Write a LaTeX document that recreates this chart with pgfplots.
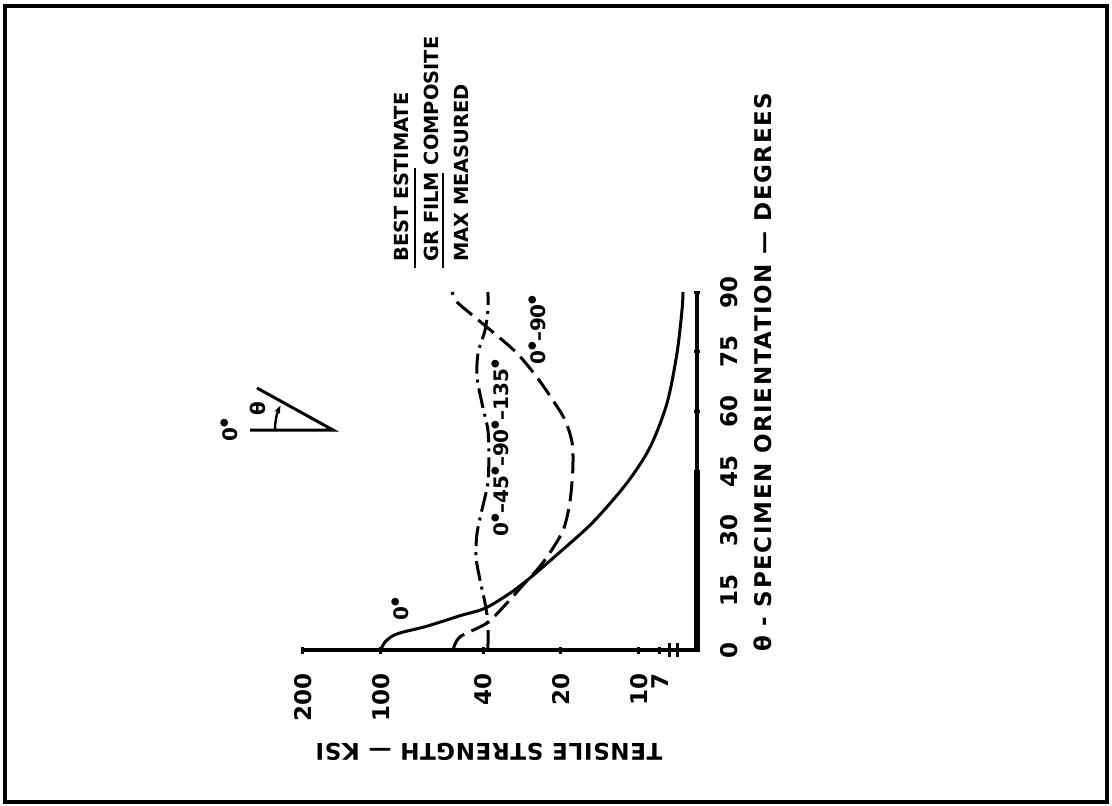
\documentclass[border=0pt]{standalone}
\usepackage{fontspec}
\setmainfont{DejaVu Sans}
\usepackage{pgfplots}
\pgfplotsset{compat=1.18}
\usetikzlibrary{arrows.meta}

% degree mark drawn as a small filled dot, as in the lettering of the original
\newcommand\dg{\raisebox{0.95ex}{\fontsize{5}{5}\selectfont ●}}

\begin{document}
\begin{tikzpicture}[font=\bfseries]
\useasboundingbox (0,0) rectangle (556pt,402.5pt);
\begin{axis}[
  at={(151.5pt,77.5pt)}, anchor=south west,
  scale only axis, width=197pt, height=179pt,
  xmode=log, x dir=reverse,
  xmin=5.94, xmax=200, ymin=0, ymax=90,
  axis x line*=bottom, axis y line*=right,
  axis line style={line width=2pt},
  xtick={200,100,40,20,10,8.27}, xticklabels={200,100,40,20,10,7},
  xminorticks=false,
  ytick={0,15,30,45,60,75,90}, yticklabels={0,15,30,45,60,75,90},
  tick align=center, major tick length=3.5pt,
  every tick/.style={black, line width=1.5pt},
  xticklabel style={rotate=90, anchor=east, inner sep=0pt},
  yticklabel style={rotate=90, anchor=north, inner sep=0pt},
  xticklabel shift=10pt, yticklabel shift=10pt,
  tick label style={font=\bfseries\fontsize{11.5}{12}\selectfont},
  clip=false,
]
% best estimate / solid
\addplot[line width=1.5pt, smooth] coordinates {
  (100,0) (96.2,2.0) (89.6,3.6) (81.9,4.5) (66.1,6.0) (49.3,8.6)
  (39.4,10.5) (31.5,14.3) (26.4,18.1) (20.2,24.6) (15.0,32.2)
  (11.1,42.0) (9.03,51.0) (7.76,62.1) (7.10,74.7) (6.79,85.5) (6.73,90)
};
% dashed
\addplot[line width=1.5pt, smooth, dash pattern=on 10pt off 4pt] coordinates {
  (52.4,0) (49.3,3.3) (38.7,6.8) (32.4,11.8) (28.1,16.3) (24.8,20.1)
  (22.1,24.4) (19.6,30.2) (18.5,36.9) (18.0,45.2) (18.1,52.0)
  (19.3,57.8) (21.5,62.8) (24.8,68.6) (29.6,74.6) (36.7,79.9)
  (45.1,84.7) (50.6,87.5) (52.9,90)
};
% dash-dot
\addplot[line width=1.5pt, smooth, dash pattern=on 10pt off 3pt on 1.5pt off 3pt] coordinates {
  (38.4,0) (38.4,6.8) (39.4,11.8) (41.2,17.6) (42.7,23.4) (42.3,29.4)
  (40.5,35.2) (38.4,42.0) (38.1,48.5) (38.4,55.3) (40.5,62.1)
  (42.3,68.6) (41.9,74.7) (39.4,80.4) (38.4,85.5) (38.4,90)
};
\end{axis}

\begin{scope}[x=0.5pt, y=-0.5pt, yshift=402.5pt]
  % frame
  \draw[line width=2pt] (5,6) rectangle (1107,802);
  % axis break near 7 and heavier lower part of the angle axis
  \draw[line width=1.5pt] (669,643) -- (669,657) (677,643) -- (677,657);
  \draw[line width=3pt] (697,470) -- (697,650);
  % axis titles
  \node[rotate=180, font=\bfseries\fontsize{11.5}{12}\selectfont\addfontfeature{LetterSpace=3}]
    at (489,752) {TENSILE STRENGTH — KSI};
  \node[rotate=90, anchor=west, inner sep=0pt,
      font=\bfseries\fontsize{11.5}{12}\selectfont\addfontfeature{LetterSpace=7}]
    at (763,652) {θ - SPECIMEN ORIENTATION — DEGREES};
  % legend text
  \begin{scope}[every node/.style={rotate=90, anchor=base west, inner sep=0pt,
      font=\bfseries\fontsize{9.7}{10}\selectfont}]
    \node at (408,262) {BEST ESTIMATE};
    \node at (438,262) {GR FILM COMPOSITE};
    \node at (468,262) {MAX MEASURED};
  \end{scope}
  \draw[line width=1pt] (415,168) -- (415,268) (443,173) -- (443,268);
  % curve labels
  \begin{scope}[every node/.style={rotate=90, inner sep=0pt,
      font=\bfseries\fontsize{10}{10}\selectfont}]
    \node at (400,609) {0\dg};
    \node at (500,448) {0\dg–45\dg–90\dg–135\dg};
    \node at (537,330) {0\dg–90\dg};
    \node at (229,430) {0\dg};
    \node at (258,409) {θ};
  \end{scope}
  % angle sketch
  \draw[line width=1.5pt] (250,430) -- (333,430) -- (257,388);
  \draw[line width=1.2pt, -{Stealth[length=4pt]}] (275,430) arc[start angle=180, end angle=205, radius=58];
\end{scope}
\end{tikzpicture}
\end{document}
